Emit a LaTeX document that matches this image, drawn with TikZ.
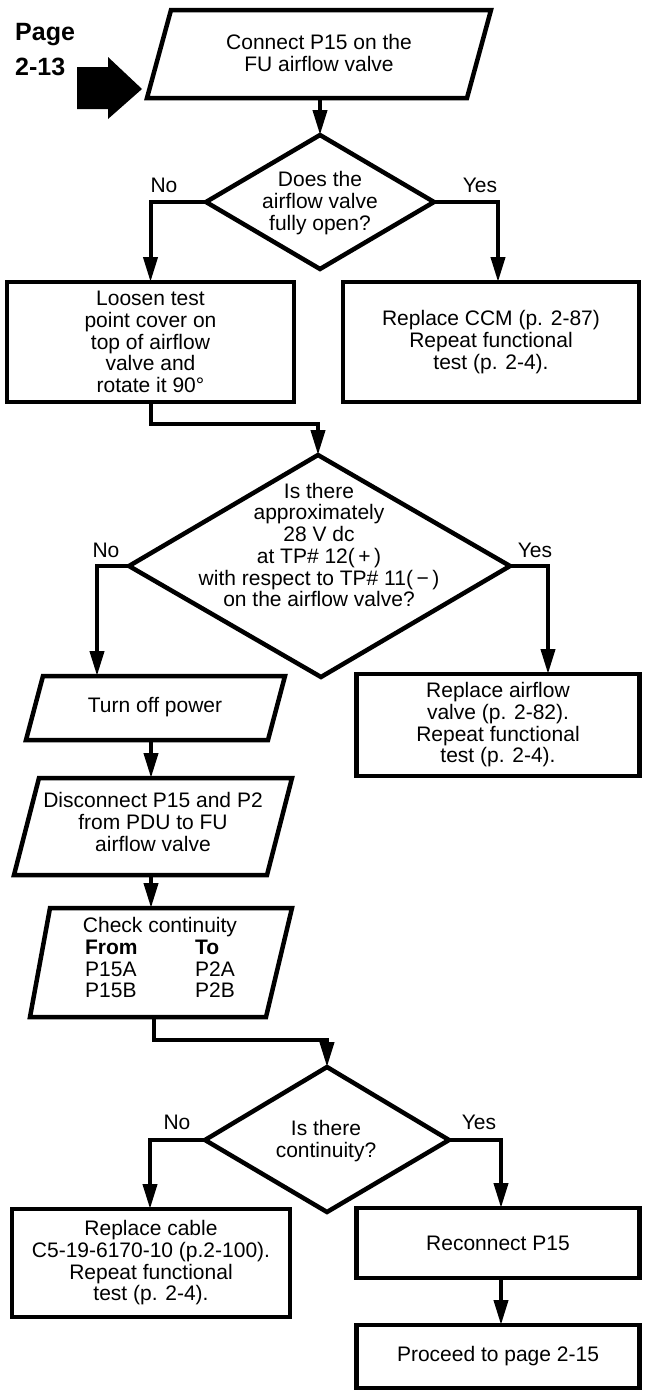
\documentclass[tikz,border=0pt]{standalone}
\usepackage{fontspec}
\setmainfont{Liberation Sans}
\usetikzlibrary{arrows.meta}
\begin{document}
\begin{tikzpicture}[x=1pt,y=-1pt,
  outline/.style={draw, line width=4.5pt, line join=miter},
  flow/.style={draw, line width=4pt, line join=miter, -{Triangle[length=25pt,width=14pt]}},
  txt/.style={align=center, inner sep=0pt, font=\fontsize{21}{21.7}\selectfont},
  box/.style={outline, txt, rectangle, outer sep=0pt},
  lbl/.style={inner sep=0pt, font=\fontsize{21}{22}\selectfont},
  pagelbl/.style={inner sep=0pt, anchor=base west, font=\fontsize{25}{27}\selectfont\bfseries},
]
\useasboundingbox (0,0) rectangle (647,1392);

% entry marker
\node[pagelbl] (pg) at (15,40) {Page};
\node[pagelbl] (pgno) at (15,75) {2-13};
\fill (77,67) -- (108,67) -- (108,57) -- (142,89) -- (108,119) -- (108,109) -- (77,109) -- cycle;

% step 1
\draw[outline] (171,10) -- (491,10) -- (467,98) -- (147,98) -- cycle;
\node[txt] (connect) at (319,53) {Connect P15 on the\\FU airflow valve};
\coordinate (connectout) at (320,98);

% decision 1
\draw[outline] (320,135) coordinate (d1t) -- (434,202) coordinate (d1r)
  -- (320,269) coordinate (d1b) -- (206,202) coordinate (d1l) -- cycle;
\node[txt] (q1) at (320,203) {Does the\\airflow valve\\fully open?};
\node[lbl] (q1no) at (164,185) {No};
\node[lbl] (q1yes) at (480,185) {Yes};
\draw[flow] (connectout) -- (d1t);

\node[box, minimum width=287pt, minimum height=120pt] (loosen) at (150.5,342)
  {Loosen test\\point cover on\\top of airflow\\valve and\\rotate it 90°};
\node[box, minimum width=296pt, minimum height=120pt] (ccm) at (491,342)
  {Replace CCM (p. 2-87)\\Repeat functional\\test (p. 2-4).};
\coordinate (d1rleg) at (498,202);
\draw[flow] (d1l) -| (loosen.north);
\draw[flow] (d1r) -- (d1rleg) -- (d1rleg |- ccm.north);

% decision 2
\draw[outline] (318,455) coordinate (d2t) -- (510,566) coordinate (d2r)
  -- (321,677) coordinate (d2b) -- (129,566) coordinate (d2l) -- cycle;
\node[txt] (q2) at (319,545) {Is there\\approximately\\28 V dc\\at TP\# 12(\,+\,)\\with respect to TP\# 11(\,−\,)\\on the airflow valve?};
\node[lbl] (q2no) at (106,550) {No};
\node[lbl] (q2yes) at (535,550) {Yes};
\draw[flow] (loosen.south) -- ++(0,22) -| (d2t);

% power off branch
\draw[outline] (43,676) -- (285,676) -- (268,740) -- (26,740) -- cycle;
\node[txt] (off) at (155,707) {Turn off power};
\coordinate (offin) at (97,676);
\coordinate (offout) at (151,740);
\coordinate (d2lleg) at (97,566);
\draw[flow] (d2l) -- (d2lleg) -- (offin);

\node[box, minimum width=283pt, minimum height=102pt] (repair) at (498,725)
  {Replace airflow\\valve (p. 2-82).\\Repeat functional\\test (p. 2-4).};
\coordinate (d2rleg) at (548,566);
\draw[flow] (d2r) -- (d2rleg) -- (d2rleg |- repair.north);

\draw[outline] (39,778) -- (292,778) -- (267,875) -- (14,875) -- cycle;
\node[txt] (disc) at (153,822) {Disconnect P15 and P2\\from PDU to FU\\airflow valve};
\coordinate (discin) at (151,778);
\coordinate (discout) at (151,875);
\draw[flow] (offout) -- (discin);

\draw[outline] (50,908) -- (292,908) -- (266,1017) -- (30,1017) -- cycle;
\node[txt] (check) at (160,961) {Check continuity\\
  \begin{tabular}[t]{@{}p{110pt}@{}l@{}}\textbf{From}&\textbf{To}\\P15A&P2A\\P15B&P2B\end{tabular}};
\coordinate (checkin) at (151,908);
\coordinate (checkout) at (154,1017);
\draw[flow] (discout) -- (checkin);

% decision 3
\draw[outline] (327,1067) coordinate (d3t) -- (449,1140) coordinate (d3r)
  -- (327,1212) coordinate (d3b) -- (205,1140) coordinate (d3l) -- cycle;
\node[txt] (q3) at (326,1141) {Is there\\continuity?};
\node[lbl] (q3no) at (177,1122) {No};
\node[lbl] (q3yes) at (479,1122) {Yes};
\draw[flow] (checkout) -- ++(0,23) -| (d3t);

\node[box, minimum width=278pt, minimum height=108pt] (cable) at (151,1263)
  {Replace cable\\C5-19-6170-10 (p.2-100).\\Repeat functional\\test (p. 2-4).};
\node[box, minimum width=283pt, minimum height=70pt] (recon) at (498,1243) {Reconnect P15};
\node[box, minimum width=283pt, minimum height=63pt] (proceed) at (498,1356.5) {Proceed to page 2-15};
\coordinate (d3lleg) at (150,1140);
\coordinate (d3rleg) at (501,1140);
\draw[flow] (d3l) -- (d3lleg) -- (d3lleg |- cable.north);
\draw[flow] (d3r) -- (d3rleg) -- (d3rleg |- recon.north);
\draw[flow] (d3rleg |- recon.south) -- (d3rleg |- proceed.north);
\end{tikzpicture}
\end{document}
